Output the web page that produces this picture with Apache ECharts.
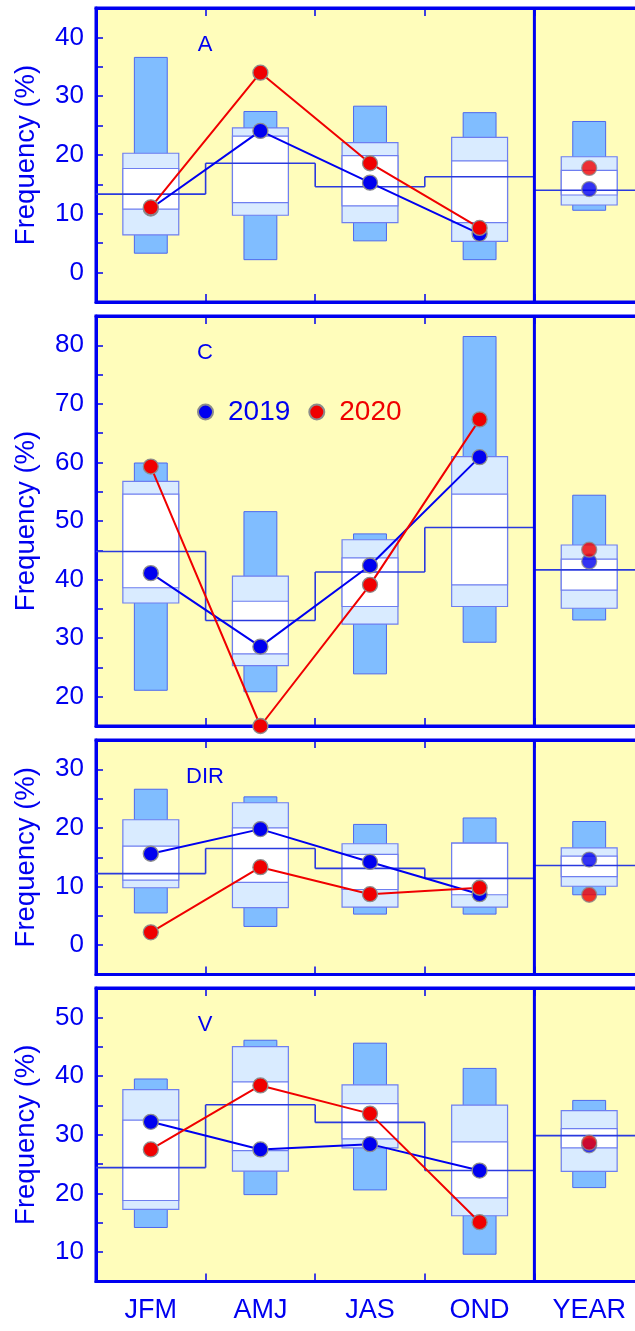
<!DOCTYPE html>
<html>
<head>
<meta charset="utf-8">
<script src="https://cdn.jsdelivr.net/npm/echarts@6/dist/echarts.min.js"></script>
<style>
html,body{margin:0;padding:0;background:#fff;overflow:hidden;}
#chart{width:646px;height:1331px;}
</style>
</head>
<body>
<div id="chart"></div>
<script>
const categories = ['JFM', 'AMJ', 'JAS', 'OND', 'YEAR'];

// Panel A
const aMax  = [36.6, 27.4, 28.3, 27.2, 25.7];
const aMin  = [3.3, 2.2, 5.4, 2.2, 10.6];
const aHi   = [20.3, 24.6, 22.1, 23.0, 19.7];
const aLo   = [6.4, 9.75, 8.5, 5.3, 11.5];
const aUp   = [17.7, 23.2, 19.9, 19.0, 17.4];
const aDn   = [10.8, 11.9, 11.35, 8.5, 13.2];
const aMean = [13.35, 18.6, 14.6, 16.3, 14.0];
const a2019 = [10.9, 24.1, 15.3, 6.6, 14.2];
const a2020 = [11.1, 34.0, 18.6, 7.6, 17.8];

// Panel C
const cMax  = [59.9, 51.6, 47.8, 81.5, 54.4];
const cMin  = [21.1, 20.85, 23.9, 29.3, 33.1];
const cHi   = [56.75, 40.6, 46.8, 61.0, 45.9];
const cLo   = [36.0, 25.3, 32.4, 35.4, 35.1];
const cUp   = [54.6, 36.3, 43.7, 54.6, 43.5];
const cDn   = [38.6, 27.3, 35.4, 39.1, 38.2];
const cMean = [44.8, 33.0, 41.3, 48.9, 41.65];
const c2019 = [41.1, 28.55, 42.4, 60.9, 43.1];
const c2020 = [59.3, 15.0, 39.1, 67.35, 45.1];

// Panel DIR
const dMax  = [26.6, 25.3, 20.6, 21.7, 21.1];
const dMin  = [5.5, 3.2, 5.3, 5.3, 8.6];
const dHi   = [21.4, 24.3, 17.3, 17.4, 16.6];
const dLo   = [9.8, 6.4, 6.5, 6.5, 10.05];
const dUp   = [16.9, 20.0, 15.5, 17.4, 15.2];
const dDn   = [11.1, 10.7, 9.5, 8.6, 11.7];
const dMean = [12.2, 16.5, 13.1, 11.4, 13.6];
const d2019 = [15.6, 19.8, 14.2, 8.7, 14.6];
const d2020 = [2.2, 13.3, 8.7, 9.8, 8.6];

// Panel V
const vMax  = [39.5, 46.1, 45.6, 41.3, 35.85];
const vMin  = [14.2, 19.8, 20.6, 9.65, 21.0];
const vHi   = [37.7, 45.0, 38.5, 35.05, 34.1];
const vLo   = [17.3, 23.8, 27.75, 16.2, 23.75];
const vUp   = [32.5, 39.0, 35.3, 28.8, 31.05];
const vDn   = [18.8, 27.3, 29.3, 19.25, 27.75];
const vMean = [24.4, 35.1, 32.1, 23.9, 29.85];
const v2019 = [32.2, 27.5, 28.4, 23.9, 28.2];
const v2020 = [27.5, 38.4, 33.6, 15.1, 28.65];

const FONT = "'Liberation Sans', Arial, Helvetica, sans-serif";
const AXIS = '#0000F0';
const BG = '#FFFDBB';

const panels = [
  {label: 'A', min: -5, max: 45, top: 8, height: 294,
   s: {max: aMax, min: aMin, hi: aHi, lo: aLo, up: aUp, dn: aDn, mean: aMean, y19: a2019, y20: a2020}},
  {label: 'C', min: 15, max: 85, top: 316, height: 410,
   s: {max: cMax, min: cMin, hi: cHi, lo: cLo, up: cUp, dn: cDn, mean: cMean, y19: c2019, y20: c2020}},
  {label: 'DIR', min: -5, max: 35, top: 740, height: 234.5,
   s: {max: dMax, min: dMin, hi: dHi, lo: dLo, up: dUp, dn: dDn, mean: dMean, y19: d2019, y20: d2020}},
  {label: 'V', min: 5, max: 55, top: 988, height: 293.5,
   s: {max: vMax, min: vMin, hi: vHi, lo: vLo, up: vUp, dn: vDn, mean: vMean, y19: v2019, y20: v2020}}
];

const grid = [], xAxis = [], yAxis = [], series = [], graphic = [];

function boxRender(params, api) {
  const i = api.value(0);
  const cx = api.coord([i, 0])[0];
  const band = api.size([1, 0])[0];
  const y = v => api.coord([i, v])[1];
  const wDark = band * 0.30, wBox = band * 0.51;
  const mx = api.value(1), mn = api.value(2), hi = api.value(3), lo = api.value(4), up = api.value(5), dn = api.value(6);
  return {
    type: 'group',
    children: [
      {type: 'rect', shape: {x: cx - wDark / 2, y: y(mx), width: wDark, height: y(mn) - y(mx)},
       style: {fill: '#80BDFF', stroke: '#4D68EE', lineWidth: 1}},
      {type: 'rect', shape: {x: cx - wBox / 2, y: y(hi), width: wBox, height: y(lo) - y(hi)},
       style: {fill: '#D9EBFF', stroke: '#6E7EF0', lineWidth: 1.2}},
      {type: 'rect', shape: {x: cx - wBox / 2, y: y(up), width: wBox, height: y(dn) - y(up)},
       style: {fill: '#FFFFFF', stroke: '#6E7EF0', lineWidth: 1.2}}
    ]
  };
}

function stepRender(params, api) {
  const i = api.value(0);
  const cx = api.coord([i, 0])[0];
  const band = api.size([1, 0])[0];
  const y = v => api.coord([i, v])[1];
  const x0 = cx - band / 2, x1 = cx + band / 2;
  const ym = y(api.value(1));
  const children = [
    {type: 'line', shape: {x1: x0, y1: ym, x2: x1, y2: ym}, style: {stroke: '#2A3ADF', lineWidth: 1.6}}
  ];
  if (i > 0 && i < 4) {
    children.push({type: 'line', shape: {x1: x0, y1: y(api.value(2)), x2: x0, y2: ym},
      style: {stroke: '#2A3ADF', lineWidth: 1.6}});
  }
  if (i === 4) {
    const cs = params.coordSys;
    children.push({type: 'line', shape: {x1: x0, y1: cs.y, x2: x0, y2: cs.y + cs.height},
      style: {stroke: AXIS, lineWidth: 3}});
  }
  return {type: 'group', children};
}

panels.forEach((p, k) => {
  grid.push({left: 96, width: 548, top: p.top, height: p.height, show: true,
    backgroundColor: BG, borderColor: AXIS, borderWidth: 3, containLabel: false});
  const xBase = {
    type: 'category', data: categories, gridIndex: k, boundaryGap: true,
    axisLine: {show: true, onZero: false, lineStyle: {color: AXIS, width: 3}},
    axisTick: {show: true, inside: true, length: 8, interval: 0, lineStyle: {color: AXIS, width: 1.5}},
    splitLine: {show: false}
  };
  xAxis.push(Object.assign({}, xBase, {position: 'bottom',
    axisLabel: {show: k === 3, fontSize: 27, color: AXIS, fontFamily: FONT, margin: 16, interval: 0}}));
  xAxis.push(Object.assign({}, xBase, {position: 'top', axisLabel: {show: false}}));
  yAxis.push({
    type: 'value', gridIndex: k, min: p.min, max: p.max, interval: 5,
    axisLine: {show: true, onZero: false, lineStyle: {color: AXIS, width: 3}},
    axisTick: {show: true, inside: true, length: 7, lineStyle: {color: AXIS, width: 1.5}},
    splitLine: {show: false},
    axisLabel: {fontSize: 26, color: AXIS, fontFamily: FONT, margin: 12,
      formatter: v => (v % 10 === 0 ? String(v) : '')},
    name: 'Frequency (%)', nameLocation: 'middle', nameRotate: 90, nameGap: 56,
    nameTextStyle: {fontSize: 27.5, color: AXIS, fontFamily: FONT}
  });
  const s = p.s;
  const xi = k * 2;
  series.push({
    type: 'custom', xAxisIndex: xi, yAxisIndex: k, z: 1, silent: true,
    renderItem: boxRender,
    encode: {x: 0, y: [1, 2, 3, 4, 5, 6]},
    data: categories.map((c, i) => [i, s.max[i], s.min[i], s.hi[i], s.lo[i], s.up[i], s.dn[i]])
  });
  series.push({
    type: 'custom', xAxisIndex: xi, yAxisIndex: k, z: 2, silent: true,
    renderItem: stepRender,
    encode: {x: 0, y: [1, 2]},
    data: categories.map((c, i) => [i, s.mean[i], i > 0 ? s.mean[i - 1] : s.mean[i]])
  });
  [['2019', s.y19, '#0000F0'], ['2020', s.y20, '#F00000']].forEach(([name, arr, col], j) => {
    const mstyle = {color: col, borderColor: '#8C8C8C', borderWidth: 1.3};
    series.push({
      type: 'line', name, xAxisIndex: xi, yAxisIndex: k, z: 3 + j,
      data: arr.slice(0, 4), symbol: 'circle', symbolSize: 15,
      itemStyle: mstyle, lineStyle: {color: col, width: 2}, clip: false,
      emphasis: {disabled: true}
    });
    series.push({
      type: 'scatter', name, xAxisIndex: xi, yAxisIndex: k, z: 3 + j,
      data: [[4, arr[4]]], symbol: 'circle', symbolSize: 15, itemStyle: mstyle,
      emphasis: {disabled: true}
    });
  });
  graphic.push({type: 'text', x: 205, y: p.top + 26, z: 10,
    style: {text: p.label, align: 'center', verticalAlign: 'top', fill: AXIS, font: '22px ' + FONT}});
});

const chart = echarts.init(document.getElementById('chart'), null, {renderer: 'canvas'});
chart.setOption({
  animation: false,
  backgroundColor: '#ffffff',
  grid, xAxis, yAxis, series, graphic,
  legend: {
    data: [{name: '2019', textStyle: {color: '#0000F0'}}, {name: '2020', textStyle: {color: '#F00000'}}],
    left: 197, top: 398, padding: 0, icon: 'circle', itemWidth: 15, itemHeight: 15, itemGap: 18,
    selectedMode: false,
    textStyle: {fontSize: 28, fontFamily: FONT, padding: [0, 0, 0, 10]}
  }
});
</script>
</body>
</html>
